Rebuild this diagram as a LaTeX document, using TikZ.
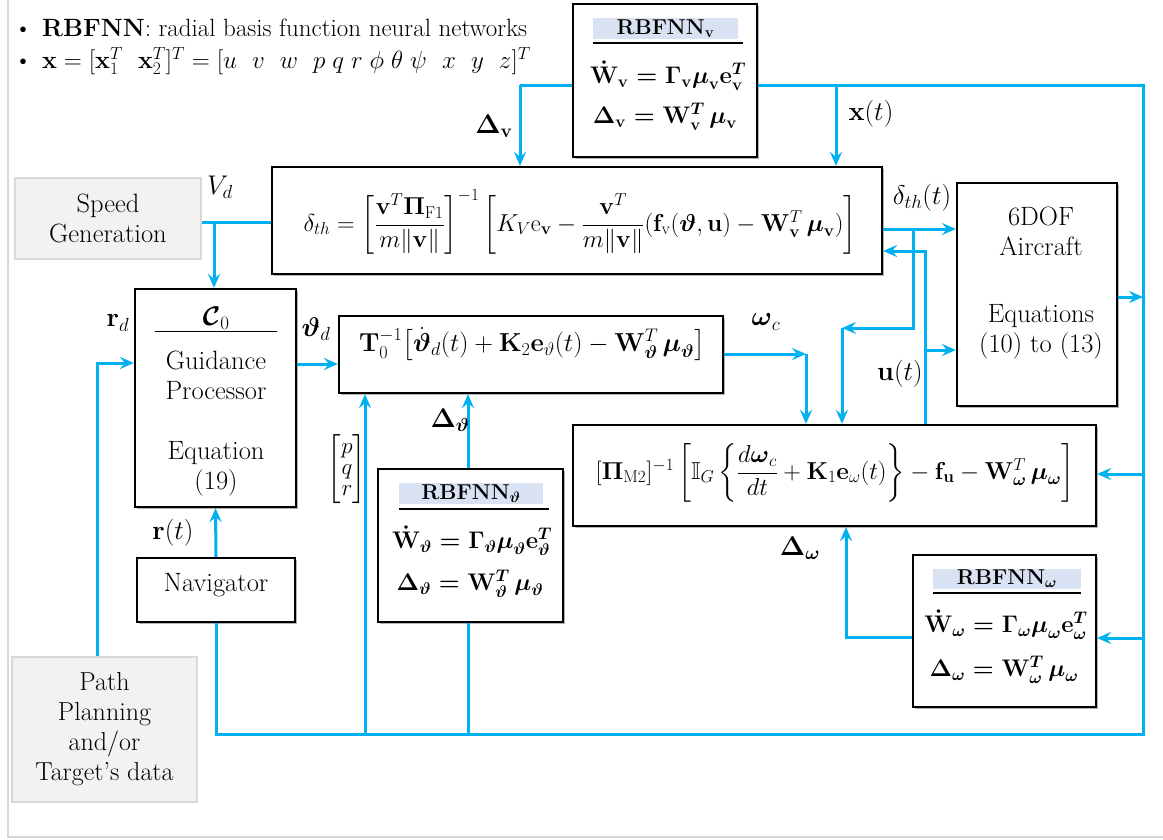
\RequirePackage{fix-cm}
\documentclass[tikz,border=0pt]{standalone}
\usepackage{amsmath,amssymb}
\usetikzlibrary{arrows.meta,shadows}
\definecolor{cblue}{RGB}{0,176,240}
\definecolor{gfill}{RGB}{242,242,242}
\definecolor{gborder}{RGB}{217,217,217}
\definecolor{tfill}{RGB}{217,226,243}
\definecolor{framec}{RGB}{215,215,215}
\newcommand\mfs{\fontsize{26.5}{30}\selectfont}
\newcommand\lfs{\fontsize{27}{30}\selectfont}
\newcommand\gfs{\fontsize{25}{30}\selectfont}
\newcommand\efs{\fontsize{24.5}{28}\selectfont}
\newcommand\rfs{\fontsize{24}{28}\selectfont}
\newcommand\tfs{\fontsize{21.5}{26}\selectfont}
\newcommand\bm[1]{{\boldmath$#1$}}
\begin{document}
\begin{tikzpicture}[x=1pt,y=-1pt,
  every node/.style={font=\mfs},
  conn/.style={draw=cblue,line width=3pt},
  arr/.style={conn,-{Stealth[length=14pt,width=12pt,inset=5pt]}},
  box/.style={draw=black,line width=2.2pt,fill=white,inner sep=0pt,
    drop shadow={shadow xshift=2pt,shadow yshift=-2pt,opacity=0.3,fill=black}},
  gbox/.style={draw=gborder,line width=2pt,fill=gfill,inner sep=0pt,align=center},
  tbar/.style={fill=tfill,inner sep=0pt,font=\tfs},
  lbl/.style={inner sep=0pt},
  mlbl/.style={inner sep=0pt,font=\lfs},
  glbl/.style={inner sep=0pt,font=\gfs,anchor=west},
  req/.style={inner sep=0pt,font=\rfs},
  hrule/.style={draw=black,line width=1.2pt}]
\useasboundingbox (0,0) rectangle (1163,839);
\draw[framec,line width=1.2pt] (8,0) -- (8,837) -- (1163,837);

% legend
\node[glbl] (leg1) at (14,28) {\textbullet\hspace{10pt}\textbf{RBFNN}: radial basis function neural networks};
\node[glbl] (leg2) at (14,61) {\textbullet\hspace{10pt}$\mathbf{x}=[\mathbf{x}_1^T\ \ \mathbf{x}_2^T]^T=[u\ \ v\ \ w\ \ p\;q\;r\;\phi\;\theta\;\psi\ \ x\ \ y\ \ z]^T$};

% boxes
\node[box,minimum width=184,minimum height=153] (rbfv) at (665,80.5) {};
\node[box,minimum width=610,minimum height=107] (dth) at (577,220.5) {};
\node[gbox,minimum width=186,minimum height=81] (speed) at (108,218.5) {Speed\\Generation};
\node[box,minimum width=161,minimum height=218] (guid) at (215.5,398) {};
\node[box,minimum width=384,minimum height=77] (tbox) at (531,354.5) {};
\node[box,minimum width=160,minimum height=223] (dof) at (1037,294.5) {};
\node[box,minimum width=523,minimum height=101] (omg) at (834.5,475.5) {};
\node[box,minimum width=185,minimum height=153] (rbft) at (470.5,545.5) {};
\node[box,minimum width=183,minimum height=152] (rbfw) at (1004.5,631) {};
\node[box,minimum width=158,minimum height=64] (nav) at (216,590) {};
\node[gbox,minimum width=185,minimum height=145,font=\fontsize{26}{30}\selectfont] (path) at (104.5,729.5) {Path\\Planning\\and/or\\Target's data};

% RBFNN_v content
\node[tbar,minimum width=145,minimum height=21] (tv) at (665.5,28.5) {\textbf{RBFNN}$_{\mathbf{v}}$};
\draw[hrule] (593,43) -- (743,43);
\node[req] (wv) at (668,76) {\bm{\dot{\mathbf{W}}_{\mathrm{v}}=\mathbf{\Gamma}_{\mathrm{v}}\boldsymbol{\mu}_{\mathrm{v}}\mathbf{e}_{\mathrm{v}}^T}};
\node[req] (dv) at (665,117) {\bm{\mathbf{\Delta}_{\mathrm{v}}=\mathbf{W}_{\mathrm{v}}^T\,\boldsymbol{\mu}_{\mathrm{v}}}};

% RBFNN_theta content
\node[tbar,minimum width=144,minimum height=21] (tt) at (471,493.5) {\textbf{RBFNN}$_{\boldsymbol{\vartheta}}$};
\draw[hrule] (399,509) -- (549,509);
\node[req] (wt) at (472,541) {\bm{\dot{\mathbf{W}}_{\vartheta}=\mathbf{\Gamma}_{\vartheta}\boldsymbol{\mu}_{\vartheta}\mathbf{e}_{\vartheta}^T}};
\node[req] (dtt) at (470,584) {\bm{\mathbf{\Delta}_{\vartheta}=\mathbf{W}_{\vartheta}^T\,\boldsymbol{\mu}_{\vartheta}}};

% RBFNN_omega content
\node[tbar,minimum width=148,minimum height=20] (tw) at (1007,579) {\textbf{RBFNN}$_{\boldsymbol{\omega}}$};
\draw[hrule] (933,593) -- (1081,593);
\node[req] (ww) at (1006,625) {\bm{\dot{\mathbf{W}}_{\omega}=\mathbf{\Gamma}_{\omega}\boldsymbol{\mu}_{\omega}\mathbf{e}_{\omega}^T}};
\node[req] (dw) at (1004,670) {\bm{\mathbf{\Delta}_{\omega}=\mathbf{W}_{\omega}^T\,\boldsymbol{\mu}_{\omega}}};

% equations
\node[lbl,font=\efs] (eqd) at (580,222) {$\delta_{th}=\left[\dfrac{\mathbf{v}^T\mathbf{\Pi}_{\mathrm{F1}}}{m\|\mathbf{v}\|}\right]^{-1}\left[K_V\mathrm{e}_{\mathbf{v}}-\dfrac{\mathbf{v}^T}{m\|\mathbf{v}\|}(\mathbf{f}_{\mathrm{v}}(\boldsymbol{\vartheta},\mathbf{u})-\mathbf{W}_{\mathbf{v}}^T\,\boldsymbol{\mu}_{\mathbf{v}})\right]$};
\node[lbl,font=\fontsize{26}{30}\selectfont] (eqt) at (532,344) {$\mathbf{T}_0^{-1}\bigl[\dot{\boldsymbol{\vartheta}}_d(t)+\mathbf{K}_2\mathbf{e}_{\vartheta}(t)-\mathbf{W}_{\boldsymbol{\vartheta}}^T\,\boldsymbol{\mu}_{\boldsymbol{\vartheta}}\bigr]$};
\node[lbl,font=\efs] (eqw) at (835,473) {$[\mathbf{\Pi}_{\mathrm{M2}}]^{-1}\left[\mathbb{I}_G\left\{\dfrac{d\boldsymbol{\omega}_c}{dt}+\mathbf{K}_1\mathbf{e}_{\omega}(t)\right\}-\mathbf{f}_{\mathbf{u}}-\mathbf{W}_{\boldsymbol{\omega}}^T\,\boldsymbol{\mu}_{\boldsymbol{\omega}}\right]$};

% guidance content
\node[mlbl] (gc) at (216,318) {$\boldsymbol{\mathcal{C}}_0$};
\draw[line width=1pt] (155,331) -- (277,331);
\node[lbl,align=center] (gt1) at (216,375) {Guidance\\Processor};
\node[lbl,align=center] (gt2) at (216,469) {Equation\\(19)};

% 6DOF content
\node[lbl,align=center] (df1) at (1041,231) {6DOF\\Aircraft};
\node[lbl,align=center] (df2) at (1041,332) {Equations\\(10) to (13)};

\node[lbl] (navt) at (216,585) {Navigator};

% junction coordinates
\coordinate (jV) at (214,222);
\coordinate (jL) at (97,363);
\coordinate (jT) at (0,364);
\coordinate (jW) at (806,354);
\coordinate (jD) at (913,229);
\coordinate (jD2) at (913,328);
\coordinate (jD3) at (842,328);
\coordinate (jU) at (925,251);
\coordinate (jU2) at (925,350);
\coordinate (jR) at (1143,297);
\coordinate (jTopL) at (520,85);
\coordinate (jX) at (836,85);
\coordinate (jTopR) at (1143,85);
\coordinate (jBot) at (1143,734);
\coordinate (jO) at (1143,474);
\coordinate (jRw) at (1143,638);
\coordinate (jWL) at (846,637);
\coordinate (jP) at (365,734);
\coordinate (jDt) at (468,734);

% connectors
\draw[conn] (speed.east |- jV) -- (dth.west |- jV);
\draw[arr] (jV) -- (jV |- guid.north);
\draw[arr] (path.north -| jL) -- (jL) -- (guid.west |- jL);
\draw[arr] (guid.east |- jT) -- (tbox.west |- jT);
\draw[arr] (tbox.east |- jW) -- (jW);
\draw[arr] (jW) -- (jW |- omg.north);
\draw[arr] (dth.east |- jD) -- (dof.west |- jD);
\draw[arr] (jD) -- (jD2) -- (jD3);
\draw[arr] (jD3) -- (jD3 |- omg.north);
\draw[arr] (omg.north -| jU) -- (jU) -- (dth.east |- jU);
\draw[arr] (jU2) -- (dof.west |- jU2);
\draw[arr] (dof.east |- jR) -- (jR);
\draw[conn] (rbfv.west |- jTopL) -- (jTopL);
\draw[arr] (jTopL) -- (jTopL |- dth.north);
\draw[conn] (rbfv.east |- jTopR) -- (jTopR) -- (jBot) -- (nav.south |- jBot) -- (nav.south);
\draw[arr] (jX) -- (jX |- dth.north);
\draw[arr] (jO) -- (omg.east |- jO);
\draw[arr] (jRw) -- (rbfw.east |- jRw);
\draw[arr] (rbfw.west |- jWL) -- (jWL) -- (jWL |- omg.south);
\draw[arr] (nav.north) -- (guid.south);
\draw[arr] (jP) -- (jP |- tbox.south);
\draw[conn] (jDt) -- (jDt |- rbft.south);
\draw[arr] (rbft.north -| jDt) -- (jDt |- tbox.south);

% labels
\node[mlbl] (lVd) at (220,187) {$V_d$};
\node[mlbl] (lrd) at (118,323) {$\mathbf{r}_d$};
\node[mlbl] (lthd) at (316,329) {$\boldsymbol{\vartheta}_d$};
\node[mlbl] (lwc) at (766,322) {$\boldsymbol{\omega}_c$};
\node[mlbl] (lDv) at (494,126) {$\mathbf{\Delta}_{\mathbf{v}}$};
\node[mlbl] (lx) at (871,114) {$\mathbf{x}(t)$};
\node[mlbl] (ldth) at (922,198) {$\delta_{th}(t)$};
\node[mlbl] (lu) at (900,374) {$\mathbf{u}(t)$};
\node[mlbl] (lrt) at (173,533) {$\mathbf{r}(t)$};
\node[mlbl] (lDt) at (450,420) {$\mathbf{\Delta}_{\boldsymbol{\vartheta}}$};
\node[mlbl] (lDw) at (800,548) {$\mathbf{\Delta}_{\boldsymbol{\omega}}$};
\node[lbl,font=\fontsize{23}{26}\selectfont] (lpqr) at (347,469) {$\begin{bmatrix}p\\[-5pt]q\\[-5pt]r\end{bmatrix}$};
\end{tikzpicture}
\end{document}
